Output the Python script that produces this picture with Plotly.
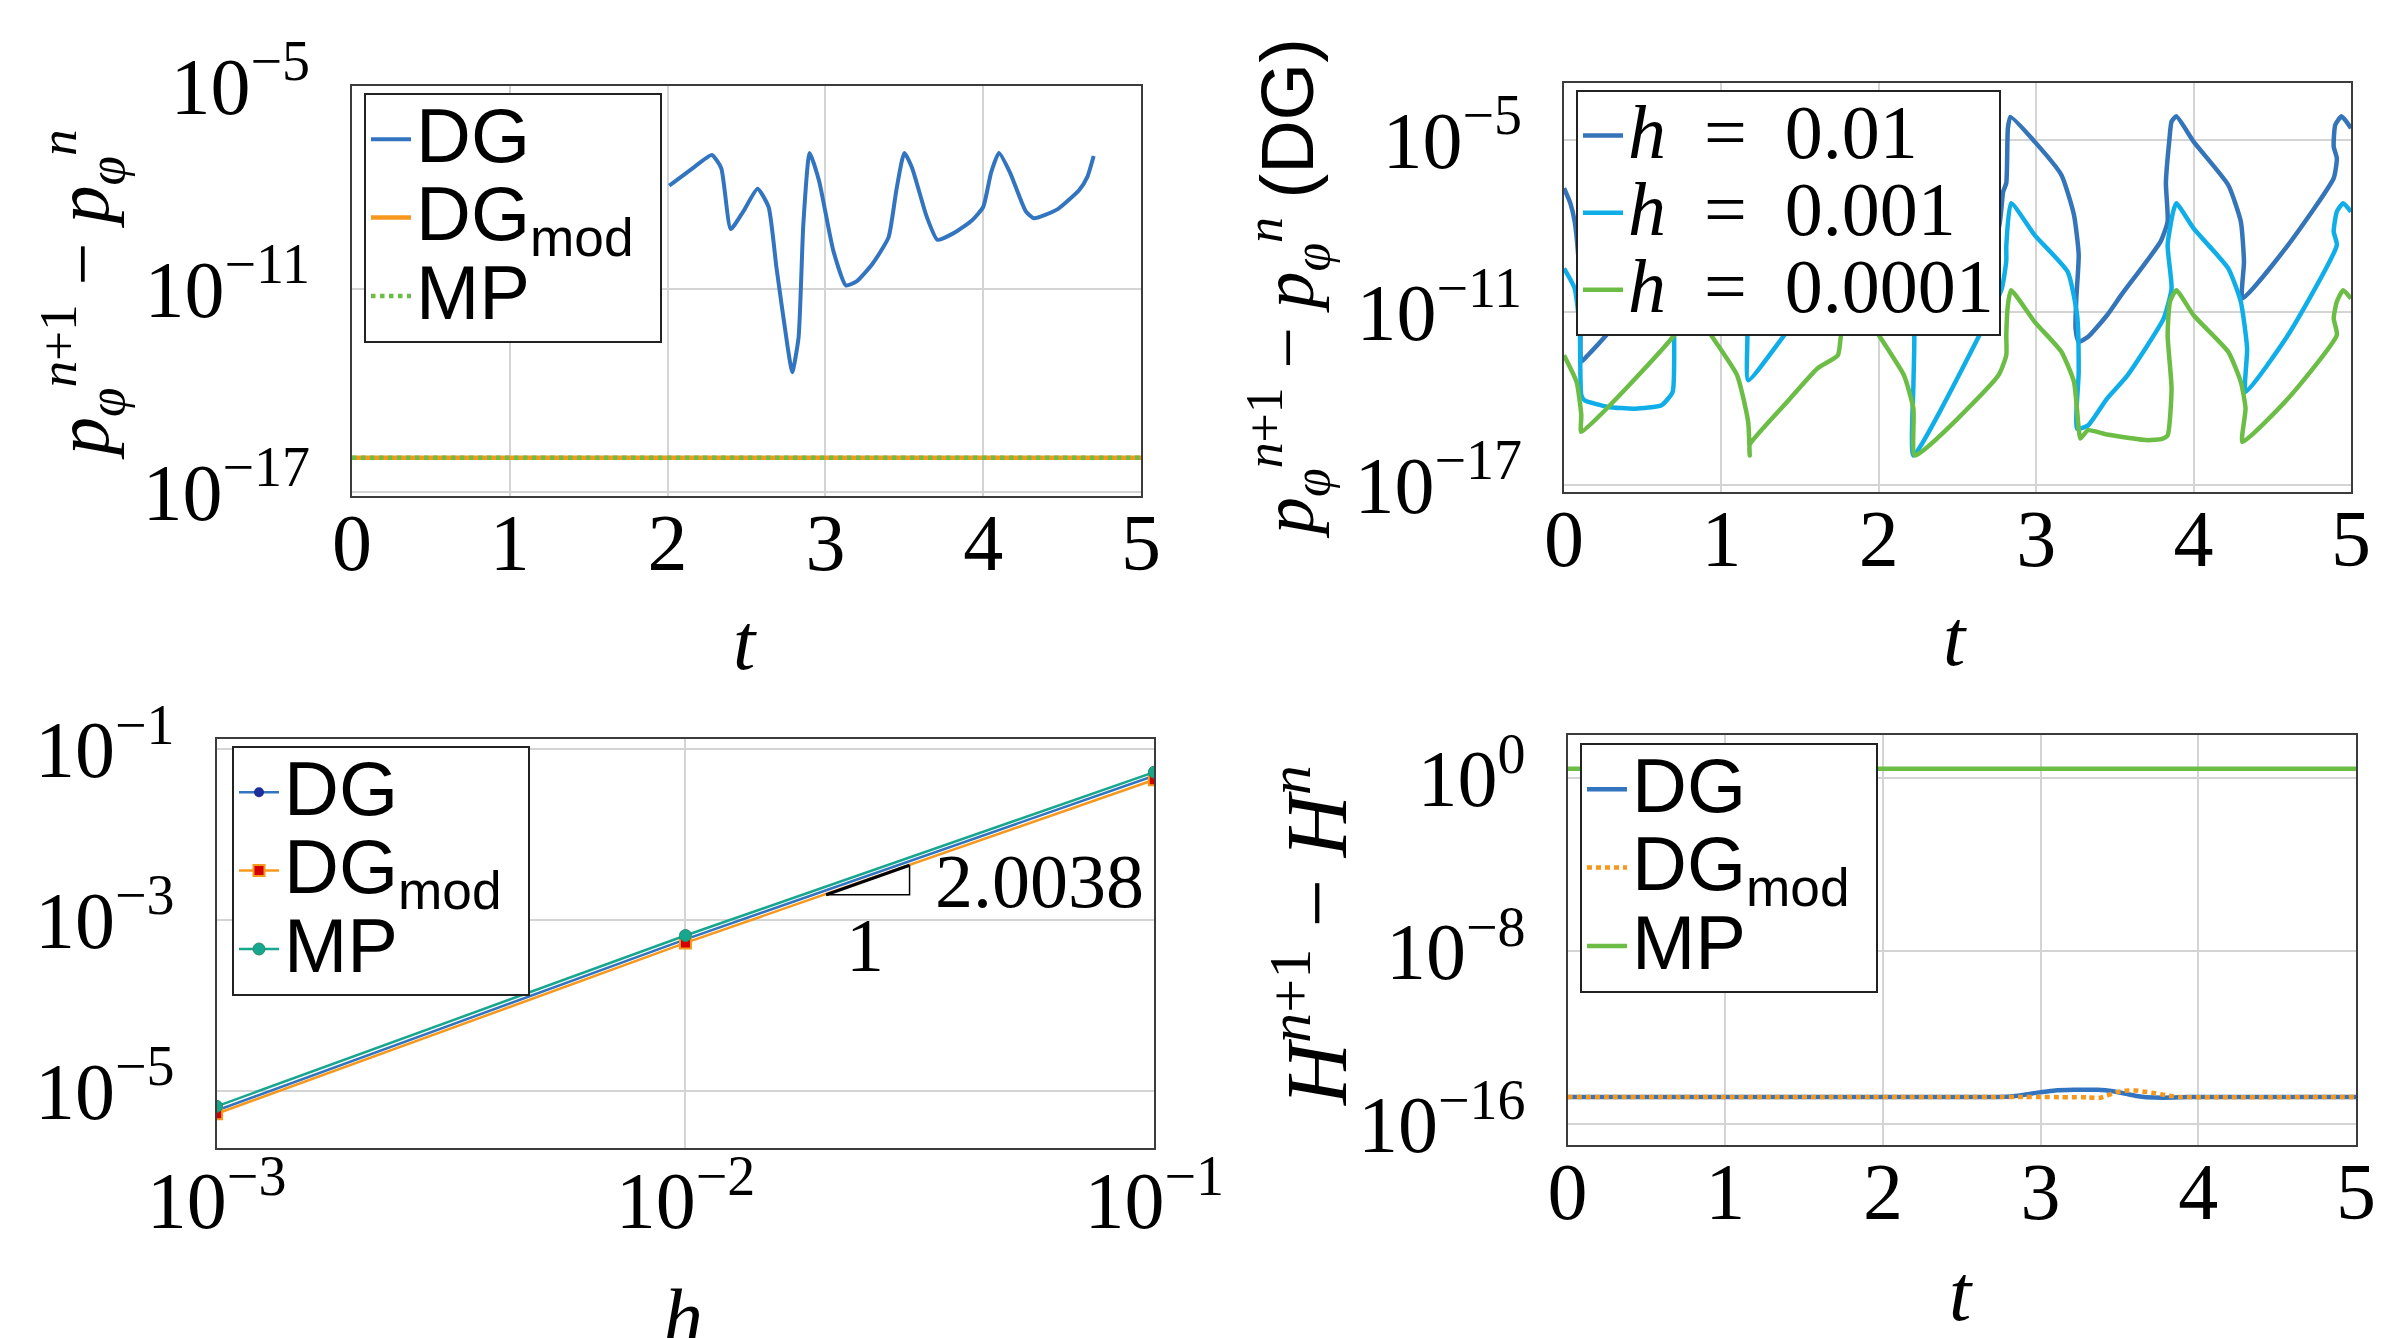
import plotly.graph_objects as go

W, H = 2407, 1338

# ---------------- data ----------------
# Panel A (top-left): momentum increment vs t
a_dg_t = [2.01, 2.03, 2.16, 2.28, 2.34, 2.40, 2.48, 2.57, 2.64, 2.69, 2.76, 2.79, 2.83, 2.86,
          2.90, 2.96, 3.05, 3.13, 3.20, 3.30, 3.40, 3.45, 3.50, 3.55, 3.64, 3.71, 3.81, 3.93,
          4.00, 4.05, 4.10, 4.17, 4.27, 4.32, 4.47, 4.61, 4.66, 4.70]
a_dg_log10 = [-7.95, -7.88, -7.43, -7.04, -7.43, -9.23, -8.71, -8.04, -8.58, -10.38, -12.70, -13.47,
              -12.44, -9.10, -6.98, -7.81, -9.87, -10.90, -10.77, -10.25, -9.48, -8.07, -6.98, -7.43,
              -8.84, -9.55, -9.36, -8.97, -8.58, -7.56, -6.98, -7.56, -8.71, -8.91, -8.65, -8.07,
              -7.69, -7.07]
a_flat_t = [0, 5]
a_dgmod = [1.0e-16, 1.0e-16]
a_mp = [1.0e-16, 1.0e-16]

# Panel B (top-right): DG for three step sizes
b_h1_t = [0.00, 0.04, 0.068, 0.09, 0.10, 0.105, 0.11, 0.15, 0.25, 0.45, 0.68, 0.70, 0.72, 0.75,
          0.78, 0.95, 1.12, 1.17, 1.19, 1.22, 1.50, 1.75, 1.77, 1.80, 1.83, 2.00, 2.17, 2.22,
          2.24, 2.27, 2.55, 2.76, 2.79, 2.81, 2.82, 2.836, 2.99, 3.16, 3.24, 3.27, 3.255, 3.25,
          3.27, 3.33, 3.45, 3.54, 3.79, 3.835, 3.824, 3.846, 3.86, 3.89, 4.00, 4.22, 4.30, 4.32,
          4.31, 4.60, 4.89, 4.91, 4.89, 4.90, 4.94, 5.00]
b_h1_log10 = [-6.68, -7.20, -7.84, -9.00, -10.17, -11.50, -12.72, -12.50, -11.91, -10.60, -8.90,
              -7.90, -5.90, -4.30, -4.20, -5.40, -6.60, -8.00, -10.80, -11.30, -9.90, -8.00, -6.00,
              -4.30, -4.20, -5.40, -6.60, -8.00, -10.80, -11.30, -9.80, -8.10, -6.80, -6.50, -4.60,
              -4.20, -5.06, -6.22, -7.61, -9.00, -10.50, -11.56, -12.02, -11.85, -11.10, -10.40,
              -8.54, -7.84, -6.50, -5.00, -4.36, -4.18, -5.06, -6.57, -7.84, -9.24, -10.52, -8.66,
              -6.33, -5.64, -5.23, -4.48, -4.18, -4.59]

b_h2_t = [0.00, 0.068, 0.10, 0.11, 0.13, 0.28, 0.45, 0.62, 0.69, 0.70, 0.705, 0.72, 0.76, 0.90,
          1.08, 1.15, 1.165, 1.17, 1.40, 1.60, 1.76, 1.775, 1.81, 1.95, 2.13, 2.20, 2.225, 2.22,
          2.22, 2.64, 2.78, 2.81, 2.81, 2.84, 2.99, 3.20, 3.26, 3.27, 3.26, 3.33, 3.45, 3.58,
          3.81, 3.86, 3.835, 3.87, 3.89, 4.00, 4.22, 4.30, 4.34, 4.33, 4.60, 4.91, 4.89, 4.91,
          4.95, 5.00]
b_h2_log10 = [-9.47, -10.17, -11.56, -13.88, -14.06, -14.29, -14.35, -14.23, -13.77, -11.79,
              -9.50, -7.60, -7.20, -8.20, -9.50, -10.90, -11.79, -13.36, -11.79, -10.30, -9.00,
              -7.60, -7.20, -8.20, -9.50, -10.90, -11.79, -13.50, -15.98, -11.79, -10.20, -9.20,
              -8.70, -7.20, -8.31, -9.59, -11.10, -13.07, -15.05, -14.93, -14.00, -13.19, -11.21,
              -10.17, -8.66, -7.50, -7.20, -8.08, -9.47, -10.63, -12.26, -13.77, -11.79, -8.66,
              -8.19, -7.50, -7.20, -7.50]

b_h3_t = [0.00, 0.08, 0.11, 0.11, 0.70, 0.73, 0.745, 0.77, 0.935, 1.10, 1.17, 1.18, 1.18, 1.42,
          1.61, 1.74, 1.76, 1.79, 1.80, 1.82, 2.00, 2.16, 2.22, 2.23, 2.76, 2.81, 2.81, 2.82,
          2.84, 2.99, 3.16, 3.24, 3.27, 3.28, 3.33, 3.45, 3.71, 3.80, 3.835, 3.86, 3.835, 3.85,
          3.89, 4.00, 4.22, 4.30, 4.33, 4.31, 4.60, 4.91, 4.89, 4.91, 4.95, 5.00]
b_h3_log10 = [-12.49, -13.42, -14.58, -15.16, -11.79, -11.40, -10.60, -10.23, -11.79, -13.19,
              -14.81, -15.98, -15.60, -14.10, -12.95, -12.49, -11.79, -11.20, -10.60, -10.23,
              -11.79, -13.19, -14.35, -15.98, -13.19, -12.49, -11.79, -10.75, -10.23, -11.33,
              -12.37, -13.42, -15.05, -15.39, -15.10, -15.25, -15.45, -15.40, -15.28, -13.65,
              -11.79, -10.63, -10.23, -11.10, -12.37, -13.42, -14.35, -15.51, -14.00, -11.79,
              -11.21, -10.63, -10.23, -10.52]

# Panel C (bottom-left): convergence in h
c_h = [1e-3, 1e-2, 1e-1]
c_dg = [5.9e-6, 5.95e-4, 4.9e-2]
c_dgmod = [5.4e-6, 5.4e-4, 4.4e-2]
c_mp = [6.6e-6, 6.6e-4, 5.4e-2]
c_tri_h = [10 ** -1.700, 10 ** -1.522]
c_tri_err = [10 ** -2.703, 10 ** -2.358]
c_slope_label = "2.0038"

# Panel D (bottom-right): energy increment vs t
d_flat_t = [0, 5]
d_mp = [2.75, 2.75]
d_dg_t = [0.00, 2.66, 2.79, 2.87, 2.98, 3.08, 3.21, 3.36, 3.46, 3.55, 3.63, 3.72, 3.84, 3.93, 5.00]
d_dg_log10 = [-14.73, -14.73, -14.72, -14.66, -14.53, -14.44, -14.40, -14.40, -14.47, -14.60,
              -14.71, -14.76, -14.76, -14.73, -14.73]
d_dgmod_t = [0.00, 3.30, 3.37, 3.42, 3.48, 3.54, 3.60, 3.66, 3.72, 3.78, 3.83, 3.88, 5.00]
d_dgmod_log10 = [-14.73, -14.75, -14.78, -14.67, -14.52, -14.44, -14.43, -14.49, -14.55, -14.63,
                 -14.69, -14.73, -14.73]

t_ticks = [0, 1, 2, 3, 4, 5]


def pw(v):
    return [10 ** x for x in v]


# ---------------- style ----------------
BLUE = "#3274c0"
ORANGE = "#f7981d"
GREEN = "#6cbd45"
CYAN = "#10aee8"
DBLUE = "#3474b9"
TEAL = "#17a68e"
NAVY = "#1c2f9b"
RED = "#d40000"
SERIF = "Liberation Serif"
SANS = "Liberation Sans"
TICKSIZE = 80
NB = "\u00a0"
LEG_TXT = 76


def px_x(a, b):
    return [a / W, b / W]


def px_y(top, bottom):
    return [1 - bottom / H, 1 - top / H]


def axis(**kw):
    d = dict(showline=True, linecolor="#3c3c3c", linewidth=2, mirror=True, automargin=False,
             showgrid=True, gridcolor="#d4d4d4", gridwidth=1.5, ticks="", zeroline=False,
             tickfont=dict(family=SERIF, size=TICKSIZE, color="black"))
    d.update(kw)
    return d


def sup_ticks(exps):
    return [f"10<sup>{'−' if e < 0 else ''}{abs(e)}</sup>" for e in exps]


def big(s, size=LEG_TXT):
    return f"<span style='font-size:{size}px'>{s}</span>"


NAME_DG = big("DG")
NAME_DGMOD = big("DG<sub>mod</sub>" + NB)
NAME_MP = big("MP")

SMOOTH = dict(shape="spline", smoothing=0.5)

fig = go.Figure()

# Panel A
fig.add_trace(go.Scatter(x=a_dg_t, y=pw(a_dg_log10), mode="lines", name=NAME_DG,
                         line=dict(color=BLUE, width=4, **SMOOTH), xaxis="x", yaxis="y",
                         legend="legend"))
fig.add_trace(go.Scatter(x=a_flat_t, y=a_dgmod, mode="lines", name=NAME_DGMOD,
                         line=dict(color=ORANGE, width=4.5), xaxis="x", yaxis="y", legend="legend"))
fig.add_trace(go.Scatter(x=a_flat_t, y=a_mp, mode="lines", name=NAME_MP,
                         line=dict(color=GREEN, width=4.5, dash="dot"), xaxis="x", yaxis="y",
                         legend="legend"))

# Panel B
for tt, vv, lab, col in [(b_h1_t, b_h1_log10, "0.01", DBLUE),
                         (b_h2_t, b_h2_log10, "0.001", CYAN),
                         (b_h3_t, b_h3_log10, "0.0001", GREEN)]:
    fig.add_trace(go.Scatter(x=tt, y=pw(vv), mode="lines",
                             name=big(f"<i>h</i>{NB} ={NB} {lab}", 76),
                             line=dict(color=col, width=4.5, **SMOOTH), xaxis="x2", yaxis="y2",
                             legend="legend2"))

# Panel C
fig.add_trace(go.Scatter(x=c_h, y=c_dg, mode="lines+markers", name=NAME_DG,
                         line=dict(color=BLUE, width=2.5),
                         marker=dict(symbol="circle", size=10, color=NAVY, line=dict(width=0)),
                         xaxis="x3", yaxis="y3", legend="legend3"))
fig.add_trace(go.Scatter(x=c_h, y=c_dgmod, mode="lines+markers", name=NAME_DGMOD,
                         line=dict(color=ORANGE, width=2.5),
                         marker=dict(symbol="square", size=11, color=RED,
                                     line=dict(color=ORANGE, width=2)),
                         xaxis="x3", yaxis="y3", legend="legend3"))
fig.add_trace(go.Scatter(x=c_h, y=c_mp, mode="lines+markers", name=NAME_MP,
                         line=dict(color=TEAL, width=2.5),
                         marker=dict(symbol="circle", size=12, color=TEAL,
                                     line=dict(color="#2b8a6e", width=1)),
                         xaxis="x3", yaxis="y3", legend="legend3"))
# slope triangle
fig.add_trace(go.Scatter(x=[c_tri_h[0], c_tri_h[1], c_tri_h[1]],
                         y=[c_tri_err[0], c_tri_err[0], c_tri_err[1]],
                         mode="lines", line=dict(color="black", width=1.5), showlegend=False,
                         hoverinfo="skip", xaxis="x3", yaxis="y3"))
fig.add_trace(go.Scatter(x=[c_tri_h[0], c_tri_h[1]], y=[c_tri_err[0], c_tri_err[1]],
                         mode="lines", line=dict(color="black", width=3), showlegend=False,
                         hoverinfo="skip", xaxis="x3", yaxis="y3"))

# Panel D
fig.add_trace(go.Scatter(x=d_dg_t, y=pw(d_dg_log10), mode="lines", name=NAME_DG,
                         line=dict(color=BLUE, width=4.5, **SMOOTH), xaxis="x4", yaxis="y4",
                         legend="legend4"))
fig.add_trace(go.Scatter(x=d_dgmod_t, y=pw(d_dgmod_log10), mode="lines", name=NAME_DGMOD,
                         line=dict(color=ORANGE, width=4.5, dash="5px,4px", **SMOOTH), xaxis="x4",
                         yaxis="y4", legend="legend4"))
fig.add_trace(go.Scatter(x=d_flat_t, y=d_mp, mode="lines", name=NAME_MP,
                         line=dict(color=GREEN, width=4.5), xaxis="x4", yaxis="y4",
                         legend="legend4"))

legend_common = dict(xanchor="left", yanchor="top", bgcolor="white", bordercolor="#222222",
                     borderwidth=2, itemwidth=40, tracegroupgap=0, traceorder="normal")

STAND_Y = 24
STAND_T = -24
STAND_H = -18

fig.update_layout(
    width=W, height=H, margin=dict(l=0, r=0, t=0, b=0, autoexpand=False),
    paper_bgcolor="white", plot_bgcolor="white", showlegend=True,
    xaxis=axis(domain=px_x(344, 1133), range=[0, 5], tickvals=t_ticks, anchor="y",
               ticklabelstandoff=STAND_T),
    yaxis=axis(domain=px_y(78, 488), type="log", range=[-17.13, -5.0], anchor="x",
               tickvals=[1e-5, 1e-11, 1e-17], ticktext=sup_ticks([-5, -11, -17]),
               ticklabelstandoff=STAND_Y),
    xaxis2=axis(domain=px_x(1556, 2343), range=[0, 5], tickvals=t_ticks, anchor="y2",
                ticklabelstandoff=STAND_T),
    yaxis2=axis(domain=px_y(75, 484), type="log", range=[-17.25, -3.02], anchor="x2",
                tickvals=[1e-5, 1e-11, 1e-17], ticktext=sup_ticks([-5, -11, -17]),
                ticklabelstandoff=STAND_Y),
    xaxis3=axis(domain=px_x(208.6, 1146.3), type="log", range=[-3, -1], anchor="y3",
                tickvals=[1e-3, 1e-2, 1e-1], ticktext=sup_ticks([-3, -2, -1]),
                ticklabelstandoff=STAND_H),
    yaxis3=axis(domain=px_y(731.2, 1140.3), type="log", range=[-5.672, -0.882], anchor="x3",
                tickvals=[1e-1, 1e-3, 1e-5], ticktext=sup_ticks([-1, -3, -5]),
                ticklabelstandoff=STAND_Y),
    xaxis4=axis(domain=px_x(1559.5, 2348), range=[0, 5], tickvals=t_ticks, anchor="y4",
                ticklabelstandoff=STAND_T),
    yaxis4=axis(domain=px_y(727.4, 1137.4), type="log", range=[-16.97, 1.98], anchor="x4",
                tickvals=[1e0, 1e-8, 1e-16], ticktext=sup_ticks([0, -8, -16]),
                ticklabelstandoff=STAND_Y),
    legend=dict(x=356 / W, y=1 - 85 / H, font=dict(family=SANS, size=58, color="black"),
                **legend_common),
    legend2=dict(x=1568 / W, y=1 - 82 / H, font=dict(family=SERIF, size=57, color="black"),
                 **legend_common),
    legend3=dict(x=224 / W, y=1 - 738 / H, font=dict(family=SANS, size=58, color="black"),
                 **legend_common),
    legend4=dict(x=1572 / W, y=1 - 735 / H, font=dict(family=SANS, size=58, color="black"),
                 **legend_common),
)

TITLE_FONT = dict(family=SERIF, size=80, color="black")
pphi = ("<i>p</i><sub><i>φ</i></sub><sup><i>n</i>+1</sup> − "
        "<i>p</i><sub><i>φ</i></sub><sup><i>n</i></sup>")
annots = [
    dict(text="<i>t</i>", x=737 / W, y=1 - 634 / H),
    dict(text="<i>t</i>", x=1947 / W, y=1 - 630 / H),
    dict(text="<i>h</i>", x=675 / W, y=1 - 1309 / H),
    dict(text="<i>t</i>", x=1953 / W, y=1 - 1285 / H),
    dict(text=pphi, x=74 / W, y=1 - 287 / H, textangle=-90,
         font=dict(family=SERIF, size=76, color="black")),
    dict(text=pphi + " <span style='font-family:Liberation Sans'>(DG)</span>",
         x=1280 / W, y=1 - 281 / H, textangle=-90,
         font=dict(family=SERIF, size=74, color="black")),
    dict(text="<i>H</i><sup><i>n</i>+1</sup> − <i>H</i><sup><i>n</i></sup>",
         x=1302 / W, y=1 - 928 / H, textangle=-90,
         font=dict(family=SERIF, size=86, color="black")),
    dict(text=c_slope_label, x=1031 / W, y=1 - 873 / H,
         font=dict(family=SERIF, size=76, color="black")),
    dict(text="1", x=857 / W, y=1 - 937 / H, font=dict(family=SERIF, size=76, color="black")),
]
for a in annots:
    base = dict(xref="paper", yref="paper", showarrow=False, xanchor="center", yanchor="middle",
                font=TITLE_FONT)
    base.update(a)
    fig.add_annotation(**base)

fig.write_html("out.html")
